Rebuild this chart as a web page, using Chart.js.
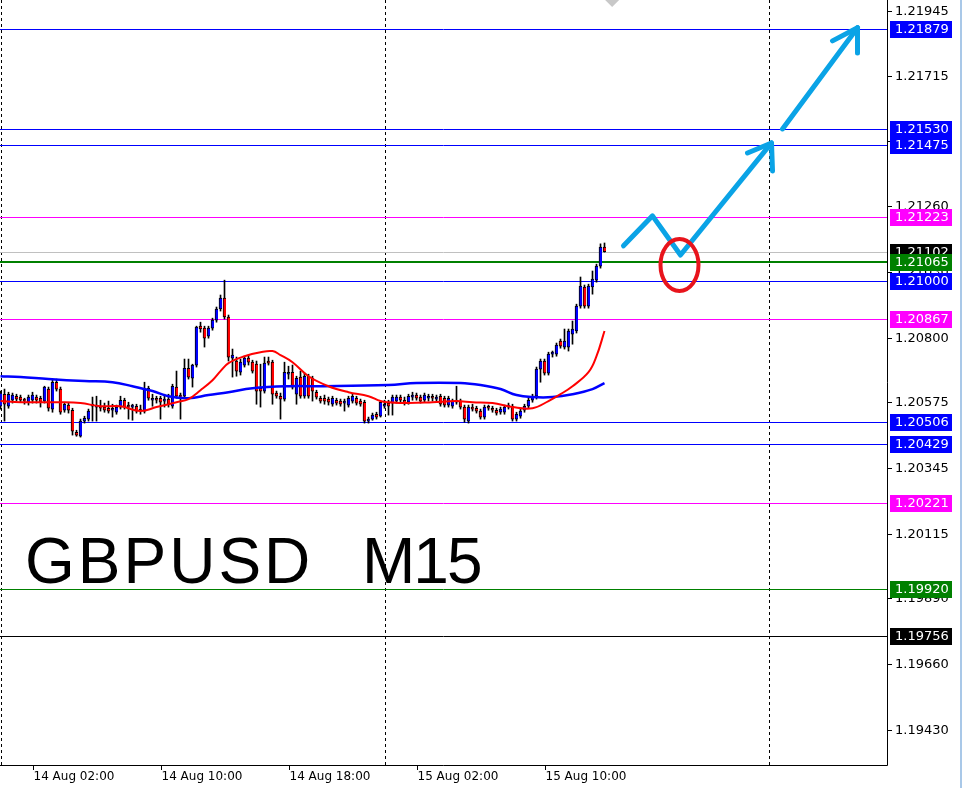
<!DOCTYPE html>
<html>
<head>
<meta charset="utf-8">
<title>GBPUSD M15</title>
<script src="https://cdn.jsdelivr.net/npm/chart.js@4.4.1/dist/chart.umd.min.js"></script>
<style>
  html, body { margin: 0; padding: 0; background: #fff; }
  #chart { display: block; }
</style>
</head>
<body>
<canvas id="chart" width="963" height="788"></canvas>
<script>
// M15 candles, bar 0 = 14 Aug 00:00
const opens = [1.20561,1.20603,1.20561,1.20582,1.20596,1.20593,1.20582,1.20575,1.20582,1.20593,1.20589,1.20579,1.20621,1.20551,1.20645,1.20621,1.20547,1.20565,1.20547,1.20470,1.20456,1.20509,1.20516,1.20568,1.20558,1.20561,1.20558,1.20554,1.20547,1.20540,1.20558,1.20582,1.20565,1.20558,1.20561,1.20551,1.20544,1.20624,1.20582,1.20586,1.20589,1.20579,1.20586,1.20561,1.20628,1.20600,1.20596,1.20694,1.20659,1.20705,1.20841,1.20834,1.20806,1.20834,1.20862,1.20901,1.20939,1.20873,1.20729,1.20719,1.20680,1.20705,1.20729,1.20715,1.20708,1.20624,1.20614,1.20715,1.20715,1.20607,1.20596,1.20586,1.20673,1.20680,1.20603,1.20663,1.20596,1.20666,1.20659,1.20610,1.20589,1.20589,1.20586,1.20568,1.20582,1.20579,1.20572,1.20565,1.20579,1.20589,1.20579,1.20575,1.20509,1.20516,1.20533,1.20526,1.20561,1.20572,1.20572,1.20579,1.20593,1.20582,1.20575,1.20593,1.20600,1.20593,1.20582,1.20589,1.20593,1.20586,1.20596,1.20589,1.20565,1.20561,1.20575,1.20579,1.20558,1.20509,1.20558,1.20554,1.20544,1.20523,1.20558,1.20554,1.20547,1.20540,1.20540,1.20558,1.20561,1.20516,1.20526,1.20547,1.20561,1.20582,1.20596,1.20691,1.20719,1.20677,1.20743,1.20743,1.20789,1.20768,1.20768,1.20813,1.20824,1.20911,1.20978,1.20911,1.20978,1.21002,1.21051,1.21118];
const highs = [1.20614,1.20621,1.20610,1.20607,1.20603,1.20600,1.20589,1.20600,1.20610,1.20600,1.20596,1.20631,1.20628,1.20656,1.20656,1.20628,1.20575,1.20572,1.20554,1.20477,1.20516,1.20526,1.20551,1.20593,1.20596,1.20582,1.20572,1.20579,1.20568,1.20565,1.20596,1.20589,1.20575,1.20568,1.20568,1.20565,1.20645,1.20631,1.20603,1.20596,1.20596,1.20603,1.20603,1.20638,1.20684,1.20607,1.20726,1.20726,1.20708,1.20841,1.20855,1.20841,1.20841,1.20869,1.20908,1.20950,1.21002,1.20880,1.20761,1.20733,1.20726,1.20736,1.20740,1.20722,1.20719,1.20708,1.20733,1.20733,1.20722,1.20614,1.20607,1.20715,1.20701,1.20705,1.20666,1.20684,1.20677,1.20673,1.20666,1.20617,1.20596,1.20600,1.20593,1.20596,1.20589,1.20586,1.20586,1.20596,1.20603,1.20596,1.20586,1.20582,1.20523,1.20537,1.20540,1.20579,1.20582,1.20582,1.20600,1.20600,1.20600,1.20593,1.20603,1.20610,1.20607,1.20600,1.20607,1.20603,1.20603,1.20600,1.20603,1.20596,1.20596,1.20586,1.20631,1.20586,1.20565,1.20565,1.20568,1.20561,1.20551,1.20565,1.20565,1.20561,1.20554,1.20558,1.20565,1.20572,1.20568,1.20540,1.20551,1.20568,1.20589,1.20603,1.20698,1.20726,1.20726,1.20750,1.20754,1.20782,1.20796,1.20831,1.20831,1.20859,1.20918,1.21013,1.20985,1.20988,1.21034,1.21058,1.21129,1.21132];
const lows = [1.20551,1.20509,1.20554,1.20572,1.20579,1.20575,1.20568,1.20565,1.20572,1.20572,1.20558,1.20572,1.20544,1.20540,1.20614,1.20533,1.20540,1.20537,1.20460,1.20456,1.20453,1.20502,1.20509,1.20509,1.20509,1.20544,1.20540,1.20537,1.20523,1.20533,1.20551,1.20551,1.20516,1.20512,1.20537,1.20533,1.20537,1.20582,1.20561,1.20572,1.20516,1.20558,1.20558,1.20554,1.20589,1.20516,1.20589,1.20656,1.20628,1.20698,1.20820,1.20768,1.20799,1.20827,1.20855,1.20894,1.20866,1.20719,1.20663,1.20666,1.20670,1.20698,1.20705,1.20677,1.20568,1.20558,1.20607,1.20705,1.20568,1.20589,1.20516,1.20579,1.20656,1.20621,1.20568,1.20589,1.20589,1.20589,1.20579,1.20586,1.20572,1.20568,1.20565,1.20561,1.20565,1.20561,1.20544,1.20558,1.20572,1.20565,1.20561,1.20502,1.20502,1.20512,1.20516,1.20523,1.20554,1.20530,1.20530,1.20572,1.20575,1.20565,1.20568,1.20582,1.20582,1.20572,1.20575,1.20579,1.20579,1.20579,1.20561,1.20558,1.20558,1.20554,1.20568,1.20551,1.20505,1.20502,1.20544,1.20537,1.20516,1.20516,1.20547,1.20540,1.20530,1.20533,1.20533,1.20551,1.20509,1.20509,1.20519,1.20540,1.20554,1.20575,1.20586,1.20645,1.20670,1.20670,1.20733,1.20736,1.20764,1.20761,1.20754,1.20778,1.20817,1.20904,1.20904,1.20904,1.20953,1.20995,1.21044,1.21100];
const closes = [1.20607,1.20568,1.20603,1.20600,1.20586,1.20582,1.20579,1.20593,1.20600,1.20582,1.20575,1.20628,1.20554,1.20645,1.20621,1.20540,1.20568,1.20547,1.20474,1.20460,1.20509,1.20519,1.20544,1.20561,1.20565,1.20554,1.20547,1.20544,1.20554,1.20558,1.20582,1.20558,1.20558,1.20561,1.20544,1.20544,1.20624,1.20589,1.20586,1.20582,1.20575,1.20582,1.20568,1.20631,1.20596,1.20593,1.20694,1.20663,1.20705,1.20838,1.20831,1.20799,1.20834,1.20862,1.20901,1.20939,1.20873,1.20733,1.20740,1.20684,1.20715,1.20729,1.20715,1.20684,1.20614,1.20614,1.20712,1.20712,1.20603,1.20596,1.20586,1.20680,1.20680,1.20628,1.20659,1.20596,1.20666,1.20596,1.20614,1.20593,1.20579,1.20579,1.20575,1.20589,1.20572,1.20568,1.20575,1.20589,1.20596,1.20572,1.20568,1.20509,1.20516,1.20530,1.20523,1.20575,1.20568,1.20561,1.20593,1.20593,1.20582,1.20572,1.20596,1.20600,1.20589,1.20579,1.20600,1.20593,1.20589,1.20593,1.20568,1.20565,1.20589,1.20579,1.20582,1.20558,1.20516,1.20558,1.20551,1.20544,1.20523,1.20558,1.20554,1.20547,1.20537,1.20551,1.20558,1.20565,1.20516,1.20533,1.20544,1.20561,1.20582,1.20596,1.20691,1.20719,1.20677,1.20743,1.20747,1.20775,1.20771,1.20789,1.20824,1.20831,1.20911,1.20981,1.20911,1.20981,1.21006,1.21051,1.21118,1.21102];

// moving averages at some bars
const redMaBars = [0,5,10,15,20,25,30,35,39,44,47,50,53,55,57,61,65,68,70,73,77,82,87,92,95,97,102,108,114,118,123,128,133,137,140,143,147,149,151];
const redMaValues = [1.20579,1.20575,1.20575,1.20575,1.20572,1.20561,1.20561,1.20544,1.20558,1.20575,1.20586,1.20617,1.20652,1.20684,1.20712,1.20736,1.20750,1.20754,1.20740,1.20715,1.20666,1.20631,1.20610,1.20596,1.20579,1.20575,1.20572,1.20575,1.20579,1.20575,1.20572,1.20558,1.20554,1.20579,1.20603,1.20631,1.20680,1.20736,1.20824];
const blueMaBars = [0,5,12,21,28,33,38,42,47,52,57,63,72,80,97,104,115,120,125,129,133,138,143,148,151];
const blueMaValues = [1.20666,1.20663,1.20656,1.20649,1.20645,1.20631,1.20614,1.20596,1.20589,1.20600,1.20610,1.20624,1.20631,1.20631,1.20635,1.20642,1.20642,1.20635,1.20621,1.20600,1.20593,1.20593,1.20603,1.20621,1.20642];

// horizontal price levels
const levelPrices = [1.21879,1.21530,1.21475,1.21223,1.21102,1.21065,1.21000,1.20867,1.20506,1.20429,1.20221,1.19920,1.19756];
const levelKinds = ['blue','blue','blue','pink','last','green2','blue','pink','blue','blue','pink','green','black'];

const priceTicks = [1.21945,1.21715,1.21490,1.21260,1.21030,1.20800,1.20575,1.20345,1.20115,1.19890,1.19660,1.19430];
const timeTickBars = [8,40,72,104,136];
const timeLabels = ['14 Aug 02:00','14 Aug 10:00','14 Aug 18:00','15 Aug 02:00','15 Aug 10:00'];
const daySeparators = [0,96,192];

// hand drawn forecast (bar, price)
const pathBars = [155.75,163,170,192.75];
const pathPrices = [1.21122,1.21227,1.21090,1.21482];
const head1Bars = [186.75,192.75,193];
const head1Prices = [1.21447,1.21482,1.21384];
const arrow2Bars = [195.5,214.25];
const arrow2Prices = [1.21531,1.21885];
const head2Bars = [208,214.25,214.25];
const head2Prices = [1.21839,1.21885,1.21797];
const circleBar = 169.75;
const circlePrice = 1.21055;

const kindStyle = {
  blue:   { line: '#0000ff', width: 1, tag: '#0000ff' },
  pink:   { line: '#ff00ff', width: 1, tag: '#ff00ff' },
  last:   { line: '#c0c0c0', width: 1, tag: '#000000' },
  green2: { line: '#008000', width: 2, tag: '#008000' },
  green:  { line: '#008000', width: 1, tag: '#008000' },
  black:  { line: '#000000', width: 1, tag: '#000000' },
};

const FONT = '"DejaVu Sans", Tahoma, sans-serif';

const mtPlugin = {
  id: 'mt',
  beforeDatasetsDraw(chart) {
    const { ctx, chartArea: a, scales: { x, y } } = chart;
    ctx.save();
    // day separators
    ctx.strokeStyle = '#000';
    ctx.lineWidth = 1;
    ctx.setLineDash([3, 3]);
    daySeparators.forEach(b => {
      const px = Math.round(x.getPixelForValue(b)) + 0.5;
      ctx.beginPath();
      ctx.moveTo(px, a.top);
      ctx.lineTo(px, a.bottom);
      ctx.stroke();
    });
    ctx.setLineDash([]);
    // level lines
    levelPrices.forEach((p, i) => {
      const st = kindStyle[levelKinds[i]];
      const py = Math.round(y.getPixelForValue(p));
      ctx.strokeStyle = st.line;
      ctx.lineWidth = st.width;
      ctx.beginPath();
      const off = st.width === 1 ? 0.5 : 0;
      ctx.moveTo(a.left, py + off);
      ctx.lineTo(a.right, py + off);
      ctx.stroke();
    });
    // symbol / timeframe
    ctx.fillStyle = '#000';
    ctx.font = '64px "Liberation Sans", Arial, sans-serif';
    ctx.textBaseline = 'alphabetic';
    ctx.textAlign = 'left';
    ctx.letterSpacing = '3px';
    ctx.fillText('GBPUSD', 25, 583);
    ctx.letterSpacing = '-2px';
    ctx.fillText('M15', 362, 583);
    ctx.letterSpacing = '0px';
    ctx.restore();
  },
  afterDatasetsDraw(chart) {
    const { ctx, chartArea: a, scales: { x, y } } = chart;
    const pt = (b, p) => [x.getPixelForValue(b), y.getPixelForValue(p)];
    ctx.save();

    // grey marker at the top edge
    ctx.fillStyle = '#c8c8c8';
    const mx = x.getPixelForValue(152.9);
    ctx.beginPath();
    ctx.moveTo(mx - 7, a.top);
    ctx.lineTo(mx + 7, a.top);
    ctx.lineTo(mx, a.top + 7);
    ctx.closePath();
    ctx.fill();

    // forecast arrows
    ctx.strokeStyle = '#0aa3e6';
    ctx.lineWidth = 5;
    ctx.lineCap = 'round';
    ctx.lineJoin = 'round';
    const poly = (bs, ps) => {
      ctx.beginPath();
      bs.forEach((b, i) => {
        const [px, py] = pt(b, ps[i]);
        if (i === 0) ctx.moveTo(px, py); else ctx.lineTo(px, py);
      });
      ctx.stroke();
    };
    poly(pathBars, pathPrices);
    poly(head1Bars, head1Prices);
    poly(arrow2Bars, arrow2Prices);
    poly(head2Bars, head2Prices);

    // red circle
    const [cx, cy] = pt(circleBar, circlePrice);
    ctx.strokeStyle = '#e8141c';
    ctx.lineWidth = 4;
    ctx.beginPath();
    ctx.ellipse(cx, cy, 19, 26, 0, 0, Math.PI * 2);
    ctx.stroke();

    ctx.restore();
  },
  afterDraw(chart) {
    const { ctx, chartArea: a, scales: { x, y } } = chart;
    ctx.save();
    // axis lines
    ctx.strokeStyle = '#000';
    ctx.lineWidth = 1;
    ctx.beginPath();
    ctx.moveTo(a.right + 0.5, a.top);
    ctx.lineTo(a.right + 0.5, a.bottom + 0.5);
    ctx.lineTo(a.left, a.bottom + 0.5);
    ctx.stroke();

    // price ticks
    ctx.font = '13px ' + FONT;
    ctx.textAlign = 'left';
    ctx.textBaseline = 'middle';
    ctx.fillStyle = '#000';
    priceTicks.forEach(p => {
      const py = Math.round(y.getPixelForValue(p)) + 0.5;
      ctx.beginPath();
      ctx.moveTo(a.right, py);
      ctx.lineTo(a.right + 5, py);
      ctx.stroke();
      ctx.fillText(p.toFixed(5), a.right + 8, py);
    });

    // time ticks
    ctx.font = '12px ' + FONT;
    ctx.textBaseline = 'middle';
    timeTickBars.forEach((b, i) => {
      const px = Math.round(x.getPixelForValue(b)) + 0.5;
      ctx.beginPath();
      ctx.moveTo(px, a.bottom);
      ctx.lineTo(px, a.bottom + 5);
      ctx.stroke();
      ctx.fillText(timeLabels[i], px, a.bottom + 12);
    });

    // price tags
    ctx.font = '13px ' + FONT;
    levelPrices.forEach((p, i) => {
      const st = kindStyle[levelKinds[i]];
      const py = Math.round(y.getPixelForValue(p));
      ctx.fillStyle = st.tag;
      ctx.fillRect(a.right + 3, py - 8, 62, 17);
      ctx.fillStyle = '#fff';
      ctx.fillText(p.toFixed(5), a.right + 8, py + 1);
    });

    // window edge
    ctx.fillStyle = '#a9c8e8';
    ctx.fillRect(960, 0, 2, chart.height);
    ctx.restore();
  }
};

const barIdx = closes.map((c, i) => i);

new Chart(document.getElementById('chart'), {
  type: 'bar',
  data: {
    datasets: [
      {
        type: 'line',
        data: redMaBars.map((b, i) => ({ x: b, y: redMaValues[i] })),
        borderColor: '#ff0000',
        borderWidth: 2,
        pointRadius: 0,
        tension: 0.4,
        order: 1,
      },
      {
        type: 'line',
        data: blueMaBars.map((b, i) => ({ x: b, y: blueMaValues[i] })),
        borderColor: '#0000ff',
        borderWidth: 2.5,
        pointRadius: 0,
        tension: 0.4,
        order: 1,
      },
      {
        data: barIdx.map(i => ({ x: i, y: [opens[i], closes[i]] })),
        backgroundColor: barIdx.map(i => closes[i] >= opens[i] ? '#0000ff' : '#ff0000'),
        borderColor: '#000',
        borderWidth: { left: 1, top: 1, bottom: 1, right: 0 },
        borderSkipped: false,
        barThickness: 3,
        minBarLength: 2,
        grouped: false,
        order: 2,
      },
      {
        data: barIdx.map(i => ({ x: i, y: [lows[i], highs[i]] })),
        backgroundColor: '#000',
        borderWidth: 0,
        barThickness: 1,
        grouped: false,
        order: 3,
      },
    ],
  },
  options: {
    responsive: false,
    animation: false,
    devicePixelRatio: 1,
    layout: { padding: { left: 0, top: 0, right: 76, bottom: 23 } },
    plugins: { legend: { display: false }, tooltip: { enabled: false } },
    scales: {
      x: { type: 'linear', min: -0.125, max: 221.625, offset: false, display: false },
      y: { type: 'linear', min: 1.19306, max: 1.21982, display: false },
    },
  },
  plugins: [mtPlugin],
});
</script>
</body>
</html>
